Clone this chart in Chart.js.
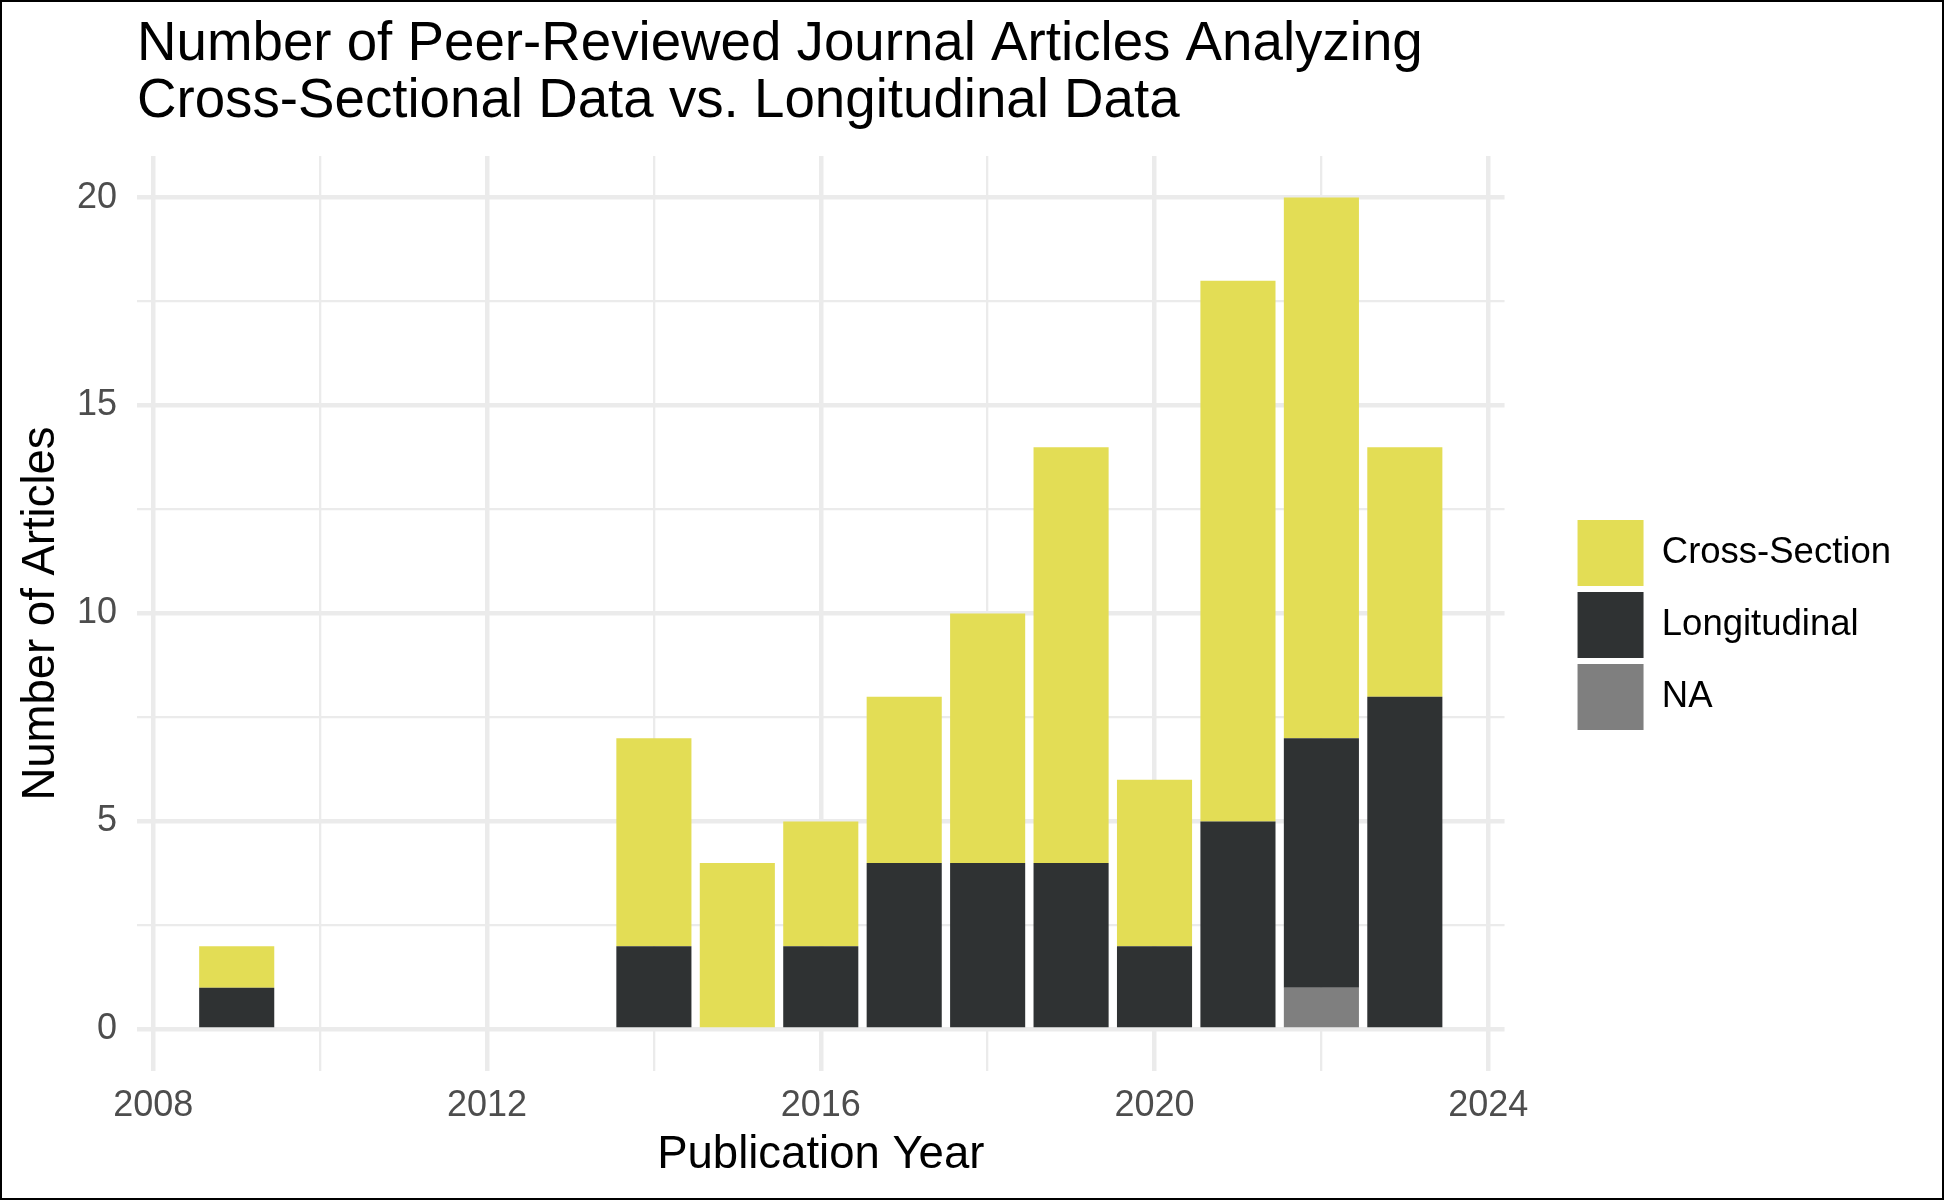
<!DOCTYPE html>
<html>
<head>
<meta charset="utf-8">
<script src="https://cdn.jsdelivr.net/npm/chart.js@4"></script>
<style>
html,body{margin:0;padding:0;background:#fff;}
#wrap{position:relative;width:1944px;height:1200px;overflow:hidden;}
#frame{position:absolute;left:0;top:0;width:1944px;height:1200px;box-sizing:border-box;border:2px solid #000;pointer-events:none;}
canvas{position:absolute;left:0;top:0;}
</style>
</head>
<body>
<div id="wrap"><canvas id="c" width="1944" height="1200"></canvas><div id="frame"></div></div>
<script>
// ---- data ----
const titleLines = ['Number of Peer-Reviewed Journal Articles Analyzing', 'Cross-Sectional Data vs. Longitudinal Data'];
const xAxisTitle = 'Publication Year';
const yAxisTitle = 'Number of Articles';
const seriesNames = ['Cross-Section', 'Longitudinal', 'NA'];
const years = [2009, 2014, 2015, 2016, 2017, 2018, 2019, 2020, 2021, 2022, 2023];
const crossSection = [1, 5, 4, 3, 4, 6, 10, 4, 13, 13, 6];
const longitudinal = [1, 2, 0, 2, 4, 4, 4, 2, 5, 6, 8];
const notAvailable = [0, 0, 0, 0, 0, 0, 0, 0, 0, 1, 0];
const xMajorTicks = [2008, 2012, 2016, 2020, 2024];
const xMinorTicks = [2010, 2014, 2018, 2022];
const yMajorTicks = [0, 5, 10, 15, 20];
const yMinorTicks = [2.5, 7.5, 12.5, 17.5];
const xRange = [2007.805, 2024.195];
const yRange = [-1, 21];

// ---- chart ----
const FONT = "'Liberation Sans', Arial, Helvetica, sans-serif";
const toPoints = vals => years.map((yr, i) => ({x: yr, y: vals[i]}));
const allX = xMajorTicks.concat(xMinorTicks).sort((a, b) => a - b);
const allY = yMajorTicks.concat(yMinorTicks).sort((a, b) => a - b);

new Chart(document.getElementById('c'), {
  type: 'bar',
  data: {
    datasets: [
      {label: seriesNames[2], data: toPoints(notAvailable), backgroundColor: '#7F7F7F', xAxisID: 'x', yAxisID: 'y'},
      {label: seriesNames[1], data: toPoints(longitudinal), backgroundColor: '#2F3233', xAxisID: 'x', yAxisID: 'y'},
      {label: seriesNames[0], data: toPoints(crossSection), backgroundColor: '#E3DD55', xAxisID: 'x', yAxisID: 'y'}
    ]
  },
  options: {
    responsive: false,
    animation: false,
    devicePixelRatio: 1,
    layout: {padding: {left: 0, top: 0, bottom: 0, right: 43}},
    datasets: {bar: {categoryPercentage: 1, barPercentage: 0.9, borderWidth: 0}},
    plugins: {
      title: {
        display: true, text: titleLines, align: 'start', fullSize: false, color: '#000',
        font: {family: FONT, size: 54.7, weight: 'normal', lineHeight: 1.042},
        padding: {top: 16.5, bottom: 25.5}
      },
      legend: {
        position: 'right', reverse: true, align: 'center', maxWidth: 420,
        title: {display: true, text: ' ', font: {size: 10, lineHeight: 1}, padding: 20},
        labels: {boxWidth: 66, boxHeight: 66, padding: 6, color: '#000', font: {family: FONT, size: 36.5}}
      },
      tooltip: {enabled: false}
    },
    scales: {
      x: {
        type: 'linear', min: xRange[0], max: xRange[1], offset: false, stacked: true,
        afterBuildTicks: s => { s.ticks = allX.map(v => ({value: v})); },
        afterFit: s => { s.height = 129; },
        grid: {color: '#EBEBEB', offset: false, drawTicks: false,
               lineWidth: c => (c.tick && xMajorTicks.includes(c.tick.value)) ? 4.5 : 2.3},
        border: {display: false},
        ticks: {autoSkip: false, maxRotation: 0, padding: 13, color: '#4D4D4D',
                font: {family: FONT, size: 36},
                callback: v => xMajorTicks.includes(v) ? String(v) : ''},
        title: {display: true, text: xAxisTitle, color: '#000', font: {family: FONT, size: 45.5},
                padding: {top: 0, bottom: 17.7}}
      },
      y: {
        type: 'linear', min: yRange[0], max: yRange[1], stacked: true,
        afterBuildTicks: s => { s.ticks = allY.map(v => ({value: v})); },
        afterFit: s => { s.width = 137; },
        grid: {color: '#EBEBEB', drawTicks: false,
               lineWidth: c => (c.tick && yMajorTicks.includes(c.tick.value)) ? 4.5 : 2.3},
        border: {display: false},
        ticks: {autoSkip: false, padding: 20, color: '#4D4D4D',
                font: {family: FONT, size: 36},
                callback: v => yMajorTicks.includes(v) ? String(v) : ''},
        title: {display: true, text: yAxisTitle, color: '#000', font: {family: FONT, size: 45.5},
                padding: {top: 13.7, bottom: 0}}
      },
      gap: {
        type: 'linear', position: 'right', display: true,
        grid: {display: false}, border: {display: false}, ticks: {display: false},
        afterFit: s => { s.width = 67; }
      }
    }
  }
});
</script>
</body>
</html>
